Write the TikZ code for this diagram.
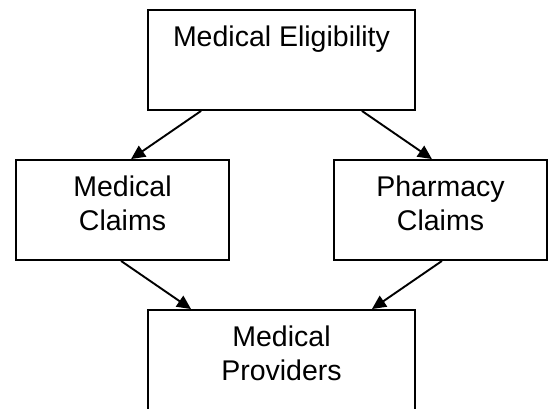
\documentclass[tikz,border=0pt]{standalone}
\usepackage{fontspec}
\setmainfont{Liberation Sans}
\usetikzlibrary{arrows.meta,calc}
\begin{document}
\begin{tikzpicture}[x=1pt,y=1pt,
  boxnode/.style={draw, line width=1.9pt, inner sep=0pt, minimum height=100pt},
  wide/.style={boxnode, minimum width=267pt},
  narrow/.style={boxnode, minimum width=213pt},
  txt/.style={anchor=north, yshift=-17pt, align=center, inner sep=0pt,
    font=\fontsize{28.5}{34}\selectfont},
  conn/.style={line width=1.9pt, -{Triangle[length=14pt,width=13pt]}}]
\useasboundingbox (0,0) rectangle (550,408);
\node[wide, label={[txt]north:Medical Eligibility}] (me) at (281.5,348) {};
\node[narrow, label={[txt]north:{Medical\\Claims}}] (mc) at (122.5,198) {};
\node[narrow, label={[txt]north:{Pharmacy\\Claims}}] (pc) at (440.5,198) {};
\node[wide, label={[txt]north:{Medical\\Providers}}] (mp) at (281.5,48) {};
\draw[conn] ($(me.south west)+(54,0)$) -- ($(mc.north west)+(116,0)$);
\draw[conn] ($(me.south east)+(-54,0)$) -- ($(pc.north east)+(-116,0)$);
\draw[conn] ($(mc.south west)+(106,0)$) -- ($(mp.north west)+(44,0)$);
\draw[conn] ($(pc.south east)+(-106,0)$) -- ($(mp.north east)+(-44,0)$);
\end{tikzpicture}
\end{document}
